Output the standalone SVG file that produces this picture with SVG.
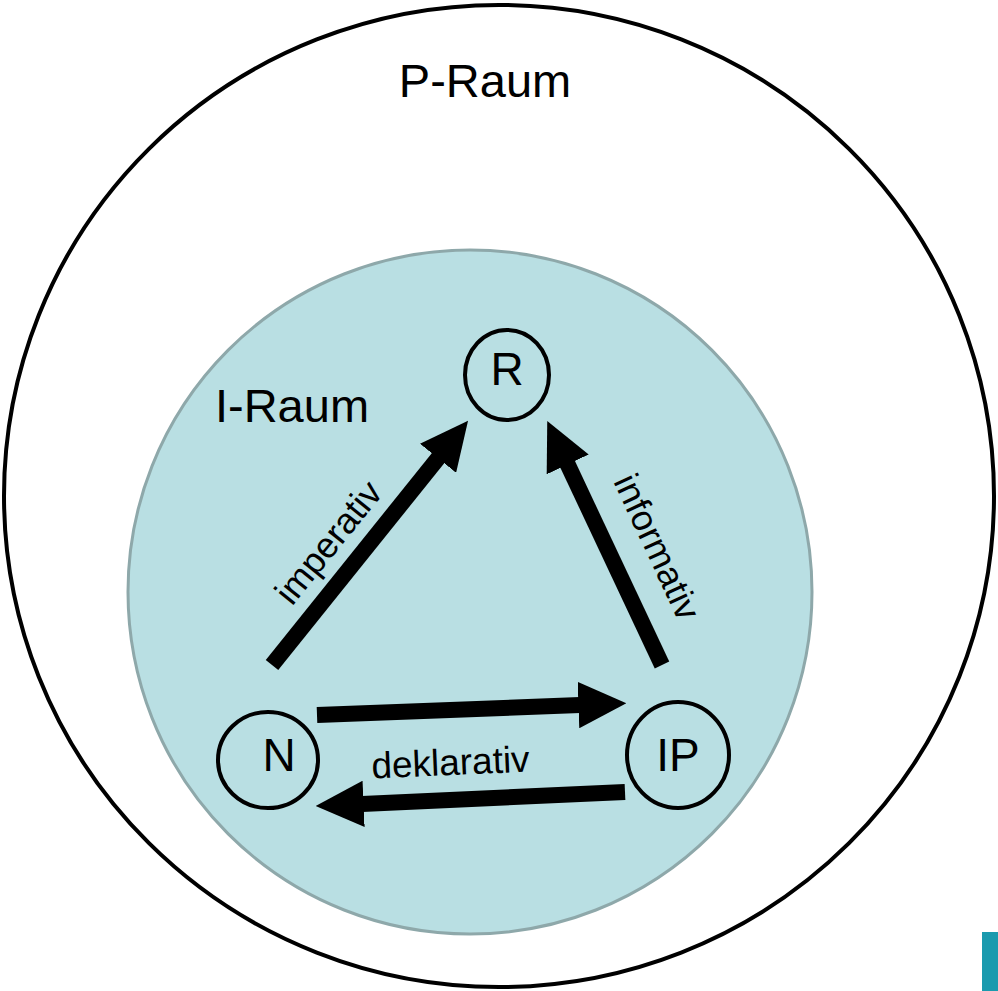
<svg xmlns="http://www.w3.org/2000/svg" width="998" height="991" viewBox="0 0 998 991">
<style>
text{font-family:"Liberation Sans",Arial,sans-serif;fill:#000}
.node{fill:none;stroke:#000;stroke-width:4}
.lbl{font-size:44px;text-anchor:middle}
.edge{font-size:36px;text-anchor:middle}
.conn{stroke:#000;stroke-width:16;fill:none;marker-end:url(#ah)}
</style>
<defs>
<marker id="ah" viewBox="0 0 3 2.9" refX="0.1" refY="1.45" markerWidth="3" markerHeight="2.9" markerUnits="strokeWidth" orient="auto">
<path d="M0,0 L3,1.45 L0,2.9 z" fill="#000"/>
</marker>
</defs>
<rect width="998" height="991" fill="#fff"/>
<g id="p-raum">
<ellipse cx="499" cy="496" rx="495" ry="491" fill="#fff" stroke="#000" stroke-width="4"/>
<text class="lbl" x="485" y="97" style="font-size:47px">P-Raum</text>
</g>
<g id="i-raum">
<circle cx="470" cy="592" r="342" fill="#b9dfe3" stroke="#8ea8aa" stroke-width="3"/>
<text class="lbl" x="292" y="422" style="font-size:47px">I-Raum</text>
</g>
<g id="connectors">
<line class="conn" x1="272" y1="665" x2="439" y2="457"/>
<line class="conn" x1="662" y1="665" x2="567" y2="463"/>
<line class="conn" x1="317" y1="715" x2="580" y2="705"/>
<line class="conn" x1="625" y1="792" x2="362" y2="804"/>
<text class="edge" transform="translate(338,550) rotate(-51)">imperativ</text>
<text class="edge" transform="translate(646,552) rotate(65)">informativ</text>
<text class="edge" transform="translate(451,775) rotate(-2.5)" style="font-size:37px">deklarativ</text>
</g>
<g id="node-R">
<ellipse class="node" cx="507" cy="375" rx="42" ry="45"/>
<text class="lbl" x="507" y="385" style="font-size:46px">R</text>
</g>
<g id="node-N">
<ellipse class="node" cx="268" cy="760" rx="50" ry="48"/>
<text class="lbl" x="279" y="771" style="font-size:46px">N</text>
</g>
<g id="node-IP">
<ellipse class="node" cx="678" cy="755" rx="51" ry="53"/>
<text class="lbl" x="678" y="771" style="font-size:46px">IP</text>
</g>
<rect x="982" y="932" width="16" height="59" fill="#1a9aae"/>
</svg>
